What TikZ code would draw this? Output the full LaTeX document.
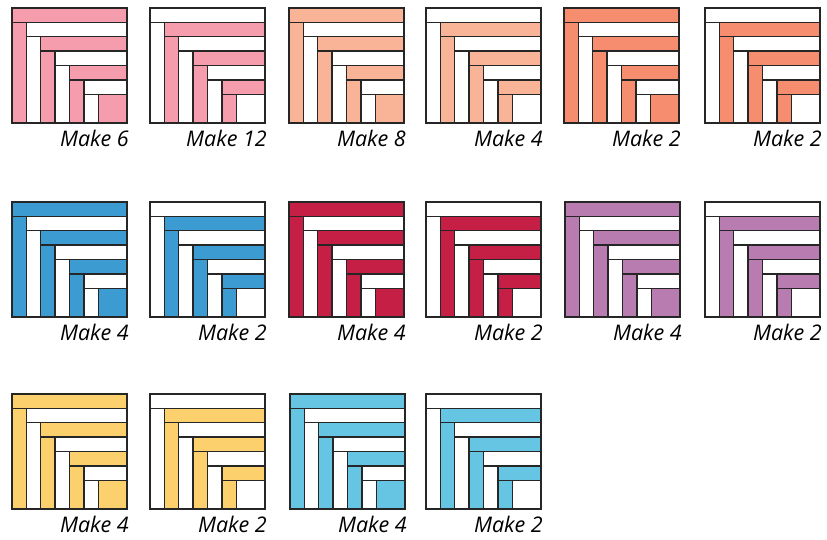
\documentclass[tikz,border=0pt]{standalone}
\usepackage{fontspec}
\setsansfont{Open Sans}
\usepackage{tikz}

\definecolor{quiltpink}{HTML}{F59CAD}
\definecolor{quiltpeach}{HTML}{F9B497}
\definecolor{quiltsalmon}{HTML}{F68D6E}
\definecolor{quiltblue}{HTML}{3C9BD0}
\definecolor{quiltred}{HTML}{C61F45}
\definecolor{quiltmauve}{HTML}{B87CB0}
\definecolor{quiltyellow}{HTML}{FDD06E}
\definecolor{quiltcyan}{HTML}{65C5E2}

\tikzset{
  strip/.style={draw=black!85, line width=1.4pt, line join=miter},
  make/.style={font=\sffamily\itshape\fontsize{21.5}{21.5}\selectfont, inner sep=0pt, anchor=base east},
}

% #1 label name, #2 left, #3 top, #4 colour, #5 0 = colour outside / 1 = white outside, #6 label
\newcommand{\cabinblock}[6]{%
  \foreach \k in {0,...,5}{%
    \pgfmathtruncatemacro{\odd}{mod(\k+#5,2)}%
    \ifnum\odd=0 \def\fc{#4}\else\def\fc{white}\fi
    \draw[strip, fill=\fc] (#2+\k*14.375, #3+\k*14.375) rectangle (#2+115, #3+\k*14.375+14.375);
    \draw[strip, fill=\fc] (#2+\k*14.375, #3+\k*14.375+14.375) rectangle (#2+\k*14.375+14.375, #3+115);
  }
  \ifnum#5=0 \def\cc{#4}\else\def\cc{white}\fi
  \draw[strip, fill=\cc] (#2+86.25, #3+86.25) rectangle (#2+115, #3+115);
  \node[make] (#1) at (#2+117, #3+138) {#6};
}

\begin{document}
\begin{tikzpicture}[x=1pt, y=-1pt]
  \useasboundingbox (0,0) rectangle (827,539);

  % row 1
  \cabinblock{pinkA}{12}{8}{quiltpink}{0}{Make 6}
  \cabinblock{pinkB}{150}{8}{quiltpink}{1}{Make 12}
  \cabinblock{peachA}{289}{8}{quiltpeach}{0}{Make 8}
  \cabinblock{peachB}{426}{8}{quiltpeach}{1}{Make 4}
  \cabinblock{salmonA}{564}{8}{quiltsalmon}{0}{Make 2}
  \cabinblock{salmonB}{705}{8}{quiltsalmon}{1}{Make 2}

  % row 2
  \cabinblock{blueA}{12}{202}{quiltblue}{0}{Make 4}
  \cabinblock{blueB}{150}{202}{quiltblue}{1}{Make 2}
  \cabinblock{redA}{289}{202}{quiltred}{0}{Make 4}
  \cabinblock{redB}{426}{202}{quiltred}{1}{Make 2}
  \cabinblock{mauveA}{565}{202}{quiltmauve}{0}{Make 4}
  \cabinblock{mauveB}{705}{202}{quiltmauve}{1}{Make 2}

  % row 3
  \cabinblock{yellowA}{12}{394}{quiltyellow}{0}{Make 4}
  \cabinblock{yellowB}{150}{394}{quiltyellow}{1}{Make 2}
  \cabinblock{cyanA}{290}{394}{quiltcyan}{0}{Make 4}
  \cabinblock{cyanB}{426}{394}{quiltcyan}{1}{Make 2}
\end{tikzpicture}
\end{document}
